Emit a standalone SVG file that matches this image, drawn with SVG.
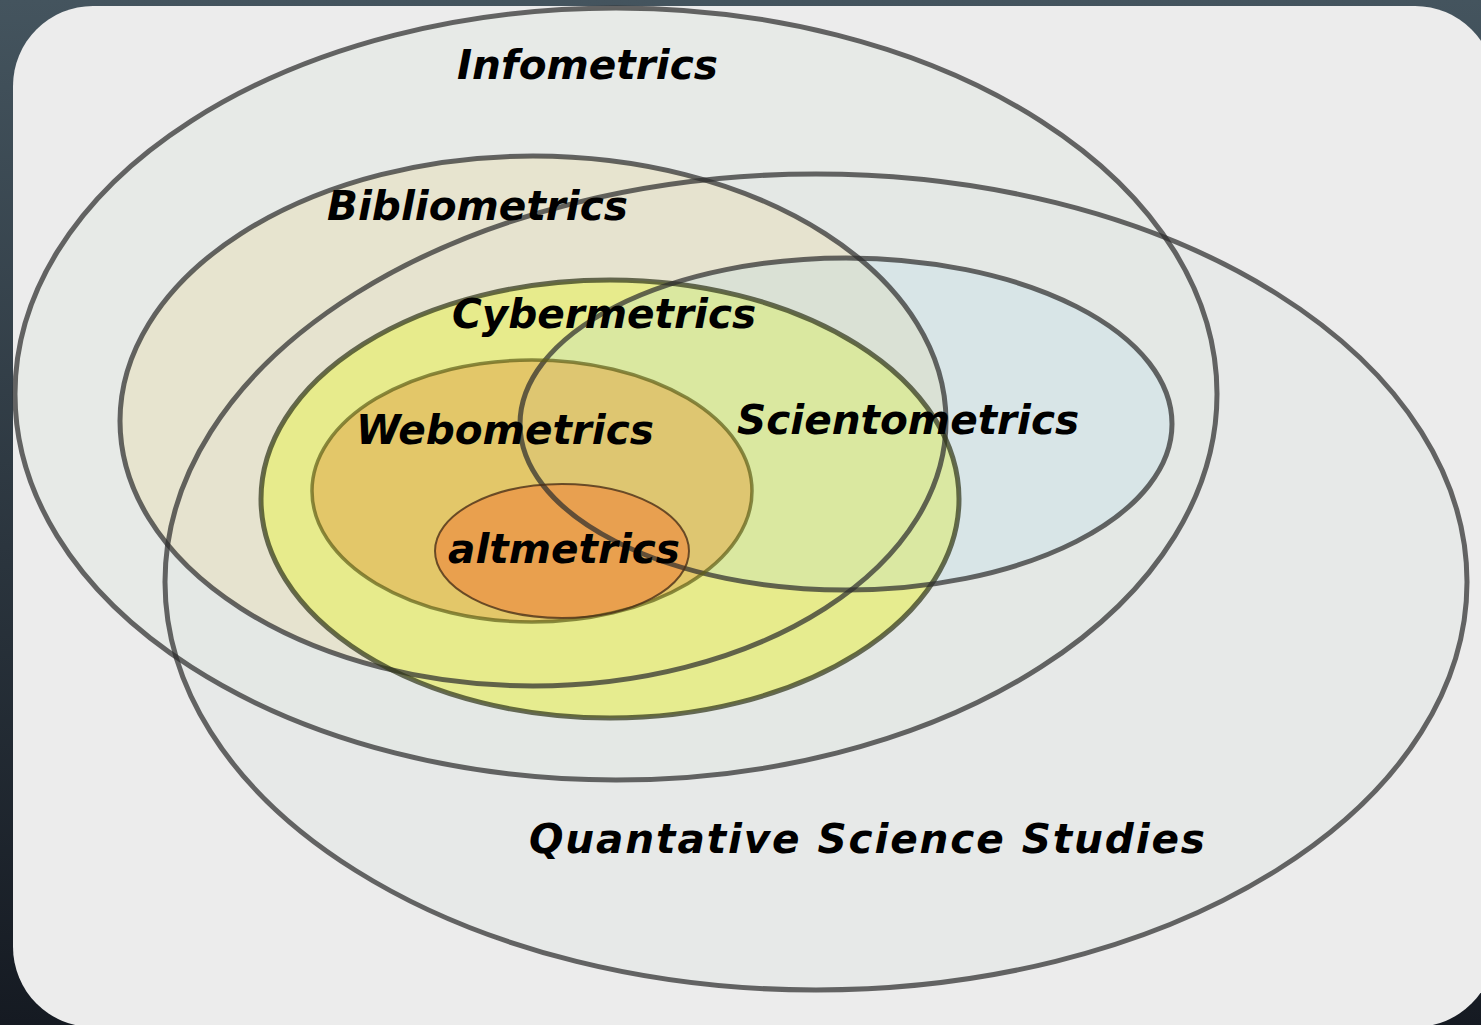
<svg xmlns="http://www.w3.org/2000/svg" width="1481" height="1025" viewBox="0 0 1481 1025">
<defs>
<linearGradient id="bg" x1="0" y1="0" x2="0" y2="1">
<stop offset="0" stop-color="#44545e"/>
<stop offset="1" stop-color="#151a22"/>
</linearGradient>
</defs>
<style>
.lbl{font-family:"DejaVu Sans","Liberation Sans",sans-serif;font-weight:bold;font-style:italic;font-size:40.6px;fill:#000}
.o{fill:none;stroke:#2e2e2e;stroke-opacity:0.72;stroke-width:5}
.oc{fill:none;stroke:#30361a;stroke-opacity:0.72;stroke-width:5}
.ow{fill:none;stroke:#5e5e18;stroke-opacity:0.7;stroke-width:3.5}
.oa{fill:none;stroke:#4a3018;stroke-opacity:0.8;stroke-width:2}
</style>
<rect width="1481" height="1025" fill="url(#bg)"/>
<rect x="13" y="6" width="1482" height="1021" rx="80" ry="80" fill="#ececec"/>
<g id="infometrics">
<ellipse cx="616" cy="394" rx="601" ry="386" fill="#e2e8e2" fill-opacity="0.5"/>
</g>
<g id="qss">
<ellipse cx="816" cy="582" rx="651" ry="408" fill="#e0e6e3" fill-opacity="0.4"/>
</g>
<g id="bibliometrics">
<ellipse cx="533" cy="421" rx="413" ry="265" fill="#e8e0c0" fill-opacity="0.6"/>
</g>
<g id="cybermetrics">
<ellipse cx="610" cy="499" rx="349" ry="219" fill="#e6ec80" fill-opacity="0.85"/>
</g>
<g id="scientometrics">
<ellipse cx="846" cy="424" rx="326" ry="166" fill="#a8dcf0" fill-opacity="0.2"/>
</g>
<g id="webometrics">
<ellipse cx="532" cy="491" rx="220" ry="131" fill="#e1af51" fill-opacity="0.6"/>
</g>
<g id="altmetrics">
<ellipse cx="562" cy="551" rx="127" ry="67" fill="#eb9345" fill-opacity="0.75"/>
</g>
<g id="outlines">
<ellipse class="o" cx="616" cy="394" rx="601" ry="386"/>
<ellipse class="o" cx="816" cy="582" rx="651" ry="408"/>
<ellipse class="o" cx="533" cy="421" rx="413" ry="265"/>
<ellipse class="oc" cx="610" cy="499" rx="349" ry="219"/>
<ellipse class="o" cx="846" cy="424" rx="326" ry="166"/>
<ellipse class="ow" cx="532" cy="491" rx="220" ry="131"/>
<ellipse class="oa" cx="562" cy="551" rx="127" ry="67"/>
</g>
<g id="labels">
<text class="lbl" x="457" y="79">Infometrics</text>
<text class="lbl" x="327" y="220">Bibliometrics</text>
<text class="lbl" x="452" y="328">Cybermetrics</text>
<text class="lbl" x="356" y="444">Webometrics</text>
<text class="lbl" x="737" y="434">Scientometrics</text>
<text class="lbl" x="448" y="563">altmetrics</text>
<text class="lbl" x="529" y="853" textLength="676" lengthAdjust="spacing">Quantative Science Studies</text>
</g>
<g id="connectors"/>
</svg>
